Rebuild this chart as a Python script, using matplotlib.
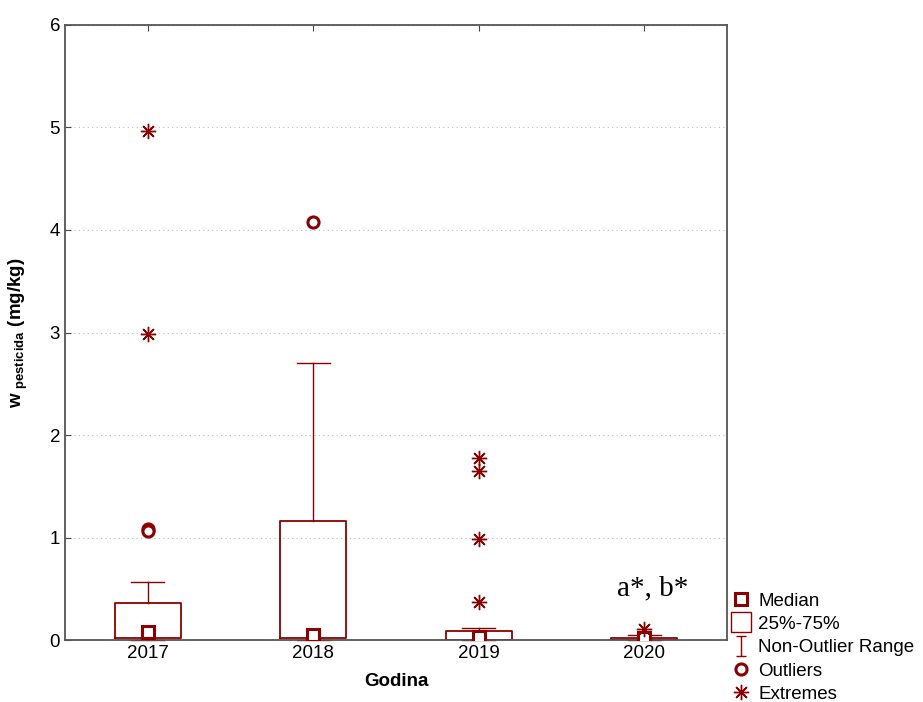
import matplotlib
matplotlib.use("Agg")
import matplotlib.pyplot as plt
from matplotlib.lines import Line2D
from matplotlib.path import Path

plt.rcParams["font.family"] = ["Liberation Sans", "DejaVu Sans"]
plt.rcParams["mathtext.fontset"] = "custom"
plt.rcParams["mathtext.rm"] = "Liberation Sans"
plt.rcParams["mathtext.bf"] = "Liberation Sans:bold"

# --- data ------------------------------------------------------------------
years = ["2017", "2018", "2019", "2020"]
q1 = [0.02, 0.02, 0.00, 0.00]
q3 = [0.36, 1.16, 0.09, 0.02]
medians = [0.08, 0.05, 0.03, 0.02]
whisk_lo = [0.00, 0.00, 0.00, 0.00]
whisk_hi = [0.57, 2.70, 0.12, 0.05]
outliers = [[1.08, 1.06], [4.08], [], []]
extremes = [[4.97, 2.99], [], [1.78, 1.65, 0.99, 0.37], [0.11]]

RED = "#8b0000"
positions = list(range(1, len(years) + 1))

fig = plt.figure(figsize=(9.23, 7.02), dpi=100)
ax = fig.add_axes([0.0704, 0.0883, 0.7173, 0.8761])

stats = [
    dict(med=m, q1=a, q3=b, whislo=lo, whishi=hi, fliers=[], label=y)
    for y, m, a, b, lo, hi in zip(years, medians, q1, q3, whisk_lo, whisk_hi)
]
ax.bxp(stats, positions=positions, widths=0.4, capwidths=0.2,
       showfliers=False, patch_artist=False,
       boxprops=dict(color=RED, linewidth=1.3),
       whiskerprops=dict(color=RED, linewidth=1.0),
       capprops=dict(color=RED, linewidth=1.0, clip_on=False),
       medianprops=dict(linewidth=0))

ax.plot(positions, medians, ls="none", marker="s", ms=8, mfc="white",
        mec=RED, mew=2.2, zorder=5)

for x, vals in zip(positions, outliers):
    ax.plot([x] * len(vals), vals, ls="none", marker="o", ms=8, mfc="white",
            mec=RED, mew=2.2, zorder=5)
for x, vals in zip(positions, extremes):
    ax.plot([x] * len(vals), vals, ls="none", marker=(8, 2, 0), ms=11,
            color=RED, mew=1.0, zorder=5)

ax.text(4.05, 0.38, "a*, b*", family="Liberation Serif", fontsize=21,
        ha="center", va="bottom")

ax.set_xlim(0.5, 4.5)
ax.set_ylim(0, 6)
ax.set_xticks(positions)
ax.set_xticklabels(years)
ax.set_yticks(range(7))
ax.tick_params(labelsize=13.5, direction="in", length=4, top=True,
               right=False, color="#444444")
ax.grid(axis="y", color="#bbbbbb", linestyle=(0, (1, 3)), linewidth=0.8)
ax.set_axisbelow(True)
for s in ax.spines.values():
    s.set_color("#555555")
    s.set_linewidth(1.3)

ax.set_xlabel("Godina", fontsize=13.5, fontweight="bold", labelpad=8)
ax.set_ylabel(r"$\mathbf{w}_{\ \mathbf{pesticida}}$ (mg/kg)", fontsize=13.5,
              fontweight="bold", labelpad=14)

ibeam = Path([(-0.5, 1), (0.5, 1), (0, 1), (0, -1), (-0.5, -1), (0.5, -1)],
             [Path.MOVETO, Path.LINETO, Path.MOVETO, Path.LINETO,
              Path.MOVETO, Path.LINETO])
handles = [
    Line2D([], [], ls="none", marker="s", ms=8, mfc="white", mec=RED, mew=2.2),
    Line2D([], [], ls="none", marker="s", ms=14, mfc="white", mec=RED, mew=1.0),
    Line2D([], [], ls="none", marker=ibeam, ms=14, color=RED, mew=1.0),
    Line2D([], [], ls="none", marker="o", ms=8, mfc="white", mec=RED, mew=2.2),
    Line2D([], [], ls="none", marker=(8, 2, 0), ms=11, color=RED, mew=1.0),
]
labels = ["Median", "25%-75%", "Non-Outlier Range", "Outliers", "Extremes"]
fig.legend(handles, labels, loc="lower left", bbox_to_anchor=(0.785, -0.012),
           frameon=False, fontsize=13.5, handlelength=1.0, handletextpad=0.4,
           labelspacing=0.33, borderaxespad=0.0)

fig.savefig("out.png", dpi=100)
